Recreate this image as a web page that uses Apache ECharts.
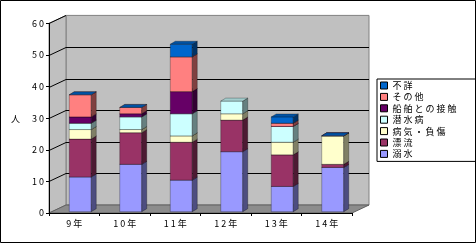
<!DOCTYPE html>
<html><head><meta charset="utf-8">
<script src="https://cdn.jsdelivr.net/npm/echarts@6/dist/echarts.min.js"></script>
<style>html,body{margin:0;padding:0;background:#fff}#c{width:476px;height:243px}</style>
</head><body><div id="c"></div>
<script>
const categories = ['9年','10年','11年','12年','13年','14年'];
const yTicks = [0,10,20,30,40,50,60];
const dekisui   = [11,15,10,19,8,14];
const hyoryu    = [12,10,12,10,10,1];
const byoki     = [3,1,2,2,4,9];
const sensuibyo = [2,4,7,4,5,0];
const senpaku   = [2,1,7,null,0,0];
const sonota    = [7,2,11,null,1,0];
const fusho     = [0,0,4,null,2,0];
const seriesNames = ['溺水','漂流','病気・負傷','潜水病','船舶との接触','その他','不詳'];
const seriesValues = [dekisui,hyoryu,byoki,sensuibyo,senpaku,sonota,fusho];
const seriesColors = ['#9999FF','#993366','#FFFFCC','#CCFFFF','#660066','#FF8080','#0066CC'];

const FONT = '"Noto Sans CJK JP","Noto Sans",sans-serif';
const DX = 17, DY = -8;      // wall depth
const BDX = 5, BDY = -3;     // bar depth
const spaced = s => String(s).split('').join(' ');

function shade(hex, f){
  const n = parseInt(hex.slice(1),16);
  const r = Math.round(((n>>16)&255)*f), g = Math.round(((n>>8)&255)*f), b = Math.round((n&255)*f);
  return 'rgb('+r+','+g+','+b+')';
}

const bases = categories.map(()=>0);
const barSeries = seriesNames.map((name,k)=>{
  const data = [];
  seriesValues[k].forEach((v,i)=>{
    if (v === null || v === undefined) return;
    data.push([i, bases[i], bases[i]+v]);
    bases[i] += v;
  });
  const col = seriesColors[k];
  return {
    type:'custom', name, z:2, data,
    itemStyle:{color:col},
    encode:{x:0, y:[1,2]},
    renderItem(params, api){
      const i = api.value(0), b = api.value(1), t = api.value(2);
      const pb = api.coord([i,b]), pt = api.coord([i,t]);
      const w = 22;
      const x = pb[0]-5, yb = pb[1]-1.3, yt = pt[1]-1.3;
      const st = {stroke:'rgba(0,0,0,0.55)', lineWidth:0.5};
      const ch = [];
      if (yb - yt > 0.01){
        ch.push({type:'rect', shape:{x, y:yt, width:w, height:yb-yt}, style:Object.assign({fill:col},st)});
        ch.push({type:'polygon', shape:{points:[[x+w,yb],[x+w+BDX,yb+BDY],[x+w+BDX,yt+BDY],[x+w,yt]]}, style:Object.assign({fill:shade(col,0.5)},st)});
      }
      ch.push({type:'polygon', shape:{points:[[x,yt],[x+w,yt],[x+w+BDX,yt+BDY],[x+BDX,yt+BDY]]}, style:Object.assign({fill:shade(col,0.8)},st)});
      return {type:'group', children:ch};
    }
  };
});

const wallSeries = {
  type:'custom', name:'walls', z:1, silent:true, data:[[0,0]],
  encode:{x:0,y:1},
  renderItem(params, api){
    const cs = params.coordSys;
    const L = cs.x, R = cs.x+cs.width, T = cs.y, B = cs.y+cs.height;
    const ch = [];
    ch.push({type:'polygon', shape:{points:[[L+DX,T+DY],[R+DX,T+DY],[R+DX,B+DY],[L+DX,B+DY]]}, style:{fill:'#C0C0C0', stroke:'#808080', lineWidth:1}});
    ch.push({type:'polygon', shape:{points:[[L,T],[L+DX,T+DY],[L+DX,B+DY],[L,B]]}, style:{fill:'#C0C0C0', stroke:'#808080', lineWidth:1}});
    ch.push({type:'polygon', shape:{points:[[L,B],[R,B],[R+DX,B+DY],[L+DX,B+DY]]}, style:{fill:'#8c8c8c', stroke:'#606060', lineWidth:1}});
    yTicks.forEach(v=>{
      if (v === 0) return;
      const y = Math.round(api.coord([0,v])[1]) + 0.5;
      ch.push({type:'line', shape:{x1:L, y1:y, x2:L+DX, y2:y+DY}, style:{stroke:'#000', lineWidth:1}});
      if (v !== yTicks[yTicks.length-1])
        ch.push({type:'line', shape:{x1:L+DX, y1:y+DY, x2:R+DX, y2:y+DY}, style:{stroke:'#000', lineWidth:1}});
    });
    return {type:'group', children:ch};
  }
};

const chart = echarts.init(document.getElementById('c'), null, {renderer:'canvas'});
chart.setOption({
  backgroundColor:'#fff',
  animation:false,
  grid:{left:49, top:23.4, width:303, height:189.6, containLabel:false},
  xAxis:{
    type:'category', data:categories, z:3,
    axisLine:{lineStyle:{color:'#000', width:1}},
    axisTick:{show:true, length:3, lineStyle:{color:'#000'}},
    axisLabel:{margin:6, fontSize:9, color:'#000', fontFamily:FONT, formatter:v=>spaced(v)},
    splitLine:{show:false}
  },
  yAxis:{
    type:'value', min:0, max:60, interval:10, z:3,
    name:'人', nameLocation:'middle', nameGap:29, nameRotate:0,
    nameTextStyle:{fontSize:9, color:'#000', fontFamily:FONT},
    axisLine:{show:true, lineStyle:{color:'#000', width:1}},
    axisTick:{show:true, length:3, lineStyle:{color:'#000'}},
    axisLabel:{margin:5, fontSize:9, color:'#000', fontFamily:FONT, formatter:v=>spaced(v)},
    splitLine:{show:false}
  },
  legend:{
    orient:'vertical', left:377, top:79,
    data:seriesNames.slice().reverse(),
    icon:'rect', itemWidth:7, itemHeight:7, itemGap:0.4, itemTextGap:5,
    itemStyle:{borderColor:'#000', borderWidth:1},
    padding:[1,19,2,3],
    borderColor:'#000', borderWidth:1, backgroundColor:'#fff',
    textStyle:{fontSize:9, lineHeight:11, color:'#000', fontFamily:FONT},
    formatter:n=>spaced(n)
  },
  graphic:[{type:'rect', shape:{x:0.5, y:0.5, width:475, height:242}, style:{fill:'none', stroke:'#000', lineWidth:1}, z:100, silent:true}],
  series:[wallSeries].concat(barSeries)
});
</script></body></html>
